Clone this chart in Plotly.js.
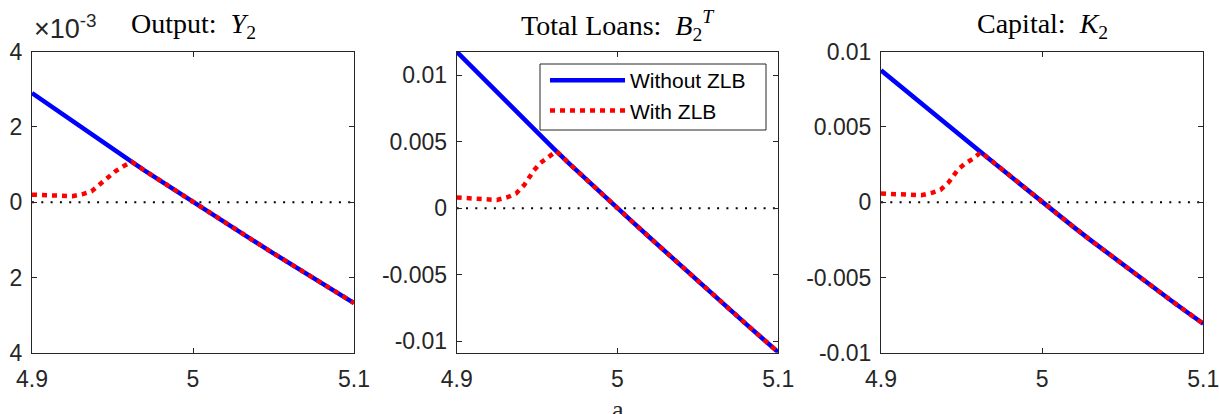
<!DOCTYPE html>
<html>
<head>
<meta charset="utf-8">
<script src="https://cdn.plot.ly/plotly-3.0.1.min.js"></script>
<style>html,body{margin:0;padding:0;background:#fff;}#chart{width:1219px;height:414px;}</style>
</head>
<body>
<div id="chart"></div>
<script>
// ---- data ----
const xBlue = [4.90,4.91,4.92,4.93,4.94,4.95,4.96,4.97,4.98,4.99,5.00,5.01,5.02,5.03,5.04,5.05,5.06,5.07,5.08,5.09,5.10];
const xRed  = [4.900,4.913,4.925,4.932,4.937,4.942,4.945,4.948,4.952,4.957,4.962,4.97,4.98,4.99,5.00,5.01,5.02,5.03,5.04,5.05,5.06,5.07,5.08,5.09,5.10];
const xZero = [4.9, 5.1];
const yZero = [0, 0];

// Output Y2 (units of 1e-3)
const outputNoZLB = [2.90,2.60,2.30,2.01,1.72,1.43,1.13,0.84,0.56,0.28,0.00,-0.28,-0.55,-0.82,-1.09,-1.36,-1.63,-1.90,-2.16,-2.42,-2.68];
const outputZLB   = [0.20,0.18,0.16,0.22,0.29,0.47,0.58,0.69,0.83,0.96,1.07,0.84,0.56,0.28,0.00,-0.28,-0.55,-0.82,-1.09,-1.36,-1.63,-1.90,-2.16,-2.42,-2.68];

// Total loans B2^T
const loansNoZLB = [0.01177,0.01055,0.00933,0.00812,0.00691,0.00571,0.00452,0.00335,0.00221,0.00110,0.00000,-0.00110,-0.00220,-0.00330,-0.00440,-0.00548,-0.00657,-0.00764,-0.00871,-0.00977,-0.01083];
const loansZLB   = [0.00081,0.00070,0.00062,0.00085,0.00112,0.00175,0.00232,0.00284,0.00340,0.00386,0.00429,0.00335,0.00221,0.00110,0.00000,-0.00110,-0.00220,-0.00330,-0.00440,-0.00548,-0.00657,-0.00764,-0.00871,-0.00977,-0.01083];

// Capital K2
const capitalNoZLB = [0.00877,0.00788,0.00700,0.00612,0.00524,0.00437,0.00350,0.00262,0.00175,0.00087,0.00000,-0.00085,-0.00169,-0.00252,-0.00334,-0.00416,-0.00496,-0.00575,-0.00653,-0.00731,-0.00808];
const capitalZLB   = [0.00058,0.00053,0.00046,0.00064,0.00083,0.00132,0.00175,0.00220,0.00255,0.00288,0.00332,0.00262,0.00175,0.00087,0.00000,-0.00085,-0.00169,-0.00252,-0.00334,-0.00416,-0.00496,-0.00575,-0.00653,-0.00731,-0.00808];

const xTickVals = [4.9, 5, 5.1];
const xTickText = ['4.9', '5', '5.1'];
const y1TickVals = [4, 2, 0, -2, -4];
const y1TickText = ['4', '2', '0', '2', '4'];
const y2TickVals = [0.01, 0.005, 0, -0.005, -0.01];
const y2TickText = ['0.01', '0.005', '0', '-0.005', '-0.01'];
const y3TickVals = [0.01, 0.005, 0, -0.005, -0.01];
const y3TickText = ['0.01', '0.005', '0', '-0.005', '-0.01'];
const titles = ['Output:  <i>Y</i><sub>2</sub>', 'Total Loans:  <i>B</i><sub>2</sub><sup><i>T</i></sup>', 'Capital:  <i>K</i><sub>2</sub>'];
const seriesNames = ['Without ZLB', 'With ZLB'];

// ---- styling ----
const BLUE = '#0000ff', RED = '#ff0000', AX = '#262626';
const sans = 'Liberation Sans, Arial, sans-serif';
const serif = 'Liberation Serif, Times New Roman, serif';

const panels = [
  {xa:'x', ya:'y', noz: outputNoZLB, z: outputZLB},
  {xa:'x2', ya:'y2', noz: loansNoZLB, z: loansZLB},
  {xa:'x3', ya:'y3', noz: capitalNoZLB, z: capitalZLB}
];

const traces = [];
panels.forEach((p, i) => {
  traces.push({x: xZero, y: yZero, xaxis: p.xa, yaxis: p.ya, mode: 'lines', showlegend: false,
    line: {color: '#000', width: 2, dash: '2px,7.3px'}, hoverinfo: 'skip'});
  traces.push({x: xBlue, y: p.noz, xaxis: p.xa, yaxis: p.ya, mode: 'lines', name: seriesNames[0],
    showlegend: i === 1, legendrank: 1, line: {color: BLUE, width: 4.5}});
  traces.push({x: xRed, y: p.z, xaxis: p.xa, yaxis: p.ya, mode: 'lines', name: seriesNames[1],
    showlegend: i === 1, legendrank: 2, line: {color: RED, width: 4.5, dash: '5px,5px'}});
});

function xax(dom) {
  return {domain: dom, range: [4.9, 5.1], tickmode: 'array', tickvals: xTickVals, ticktext: xTickText,
    ticks: 'inside', ticklen: 5, tickwidth: 1, tickcolor: AX, showline: true, linecolor: AX, linewidth: 1,
    mirror: 'ticks', showgrid: false, zeroline: false, tickfont: {family: sans, size: 23, color: AX},
    ticklabelstandoff: 6, ticklabeloverflow: 'allow'};
}
function yax(anchor, range, vals, text) {
  return {domain: [0.1481, 0.8751], anchor: anchor, range: range, tickmode: 'array', tickvals: vals, ticktext: text,
    ticks: 'inside', ticklen: 5, tickwidth: 1, tickcolor: AX, showline: true, linecolor: AX, linewidth: 1,
    mirror: 'ticks', showgrid: false, zeroline: false, tickfont: {family: sans, size: 23, color: AX},
    ticklabelstandoff: 4, ticklabeloverflow: 'allow'};
}

const centers = [(32+354)/2/1219, (456.7+778.3)/2/1219, (881+1203.3)/2/1219];
const annotations = titles.map((t, i) => ({
  text: t, xref: 'paper', yref: 'paper', x: centers[i], y: (414-26)/414, xanchor: 'center', yanchor: 'middle',
  showarrow: false, font: {family: serif, size: 28, color: '#000'}
}));
annotations.push({text: '×10<sup>-3</sup>', xref: 'paper', yref: 'paper', x: 32/1219, y: (414-46)/414,
  xanchor: 'left', yanchor: 'bottom', showarrow: false, font: {family: sans, size: 27, color: AX}});
annotations.push({text: 'a', xref: 'paper', yref: 'paper', x: centers[1], y: (414-393)/414,
  xanchor: 'center', yanchor: 'top', showarrow: false, font: {family: serif, size: 26, color: AX}});

const layout = {
  width: 1219, height: 414, margin: {l: 0, r: 0, t: 0, b: 0},
  paper_bgcolor: '#fff', plot_bgcolor: '#fff', showlegend: true,
  xaxis: xax([32/1219, 354/1219]), xaxis2: xax([456.7/1219, 778.3/1219]), xaxis3: xax([881/1219, 1203.3/1219]),
  yaxis: yax('x', [-4, 4], y1TickVals, y1TickText),
  yaxis2: yax('x2', [-0.01086, 0.01177], y2TickVals, y2TickText),
  yaxis3: yax('x3', [-0.01, 0.01], y3TickVals, y3TickText),
  legend: {x: 545/1219, y: (414-60)/414, xanchor: 'left', yanchor: 'top', bgcolor: 'rgba(0,0,0,0)',
    borderwidth: 0, itemwidth: 75, font: {family: sans, size: 21, color: '#000'}, tracegroupgap: 0},
  shapes: [{type: 'rect', xref: 'paper', yref: 'paper', x0: 540/1219, x1: 766/1219, y0: (414-130)/414, y1: (414-64)/414,
    line: {color: AX, width: 1}, fillcolor: '#fff', layer: 'above'}],
  annotations: annotations
};

Plotly.newPlot('chart', traces, layout, {staticPlot: true, displayModeBar: false});
</script>
</body>
</html>
